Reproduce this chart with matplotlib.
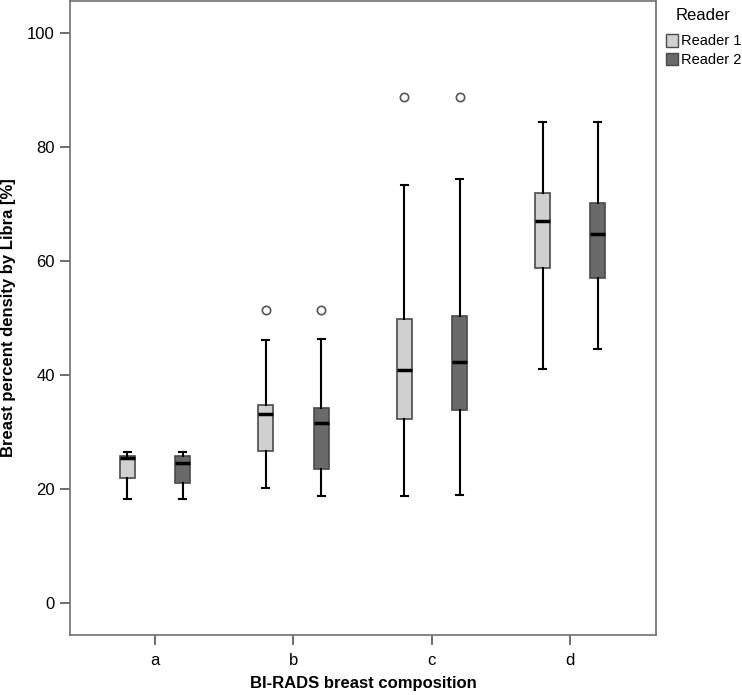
import matplotlib
matplotlib.use("Agg")
import matplotlib.pyplot as plt
from matplotlib.patches import Patch

plt.rcParams['font.family'] = ['Liberation Sans', 'DejaVu Sans']

categories = ['a', 'b', 'c', 'd']
readers = ['Reader 1', 'Reader 2']

# per reader: whisker low, q1, median, q3, whisker high, outliers
r1_whislo = [18.3, 20.2, 18.8, 41.1]
r1_q1 = [21.9, 26.7, 32.2, 58.8]
r1_med = [25.4, 33.1, 40.8, 67.0]
r1_q3 = [25.8, 34.8, 49.8, 72.0]
r1_whishi = [26.5, 46.2, 73.3, 84.4]
r1_fliers = [[], [51.4], [88.7], []]

r2_whislo = [18.3, 18.8, 19.0, 44.6]
r2_q1 = [21.0, 23.6, 33.8, 57.1]
r2_med = [24.6, 31.5, 42.3, 64.8]
r2_q3 = [25.8, 34.3, 50.3, 70.2]
r2_whishi = [26.5, 46.3, 74.3, 84.4]
r2_fliers = [[], [51.4], [88.7], []]

colors = ['#d0d0d0', '#6a6a6a']
edge = '#4a4a4a'

fig = plt.figure(figsize=(7.42, 6.95), dpi=100)
ax = fig.add_axes([70/742, 60/695, (656-70)/742, (634)/695])

series = [
    (r1_whislo, r1_q1, r1_med, r1_q3, r1_whishi, r1_fliers),
    (r2_whislo, r2_q1, r2_med, r2_q3, r2_whishi, r2_fliers),
]
offsets = [-0.2, 0.2]
for k, (wl, q1, md, q3, wh, fl) in enumerate(series):
    stats = []
    for i in range(len(categories)):
        stats.append(dict(whislo=wl[i], q1=q1[i], med=md[i], q3=q3[i],
                          whishi=wh[i], fliers=fl[i]))
    pos = [i + offsets[k] for i in range(len(categories))]
    ax.bxp(stats, positions=pos, widths=0.108, patch_artist=True,
           manage_ticks=False,
           boxprops=dict(facecolor=colors[k], edgecolor=edge, linewidth=1.2),
           medianprops=dict(color='black', linewidth=2.5),
           whiskerprops=dict(color='black', linewidth=1.5),
           capprops=dict(color='black', linewidth=1.5),
           capwidths=0.05,
           flierprops=dict(marker='o', markerfacecolor='white',
                           markeredgecolor='#555555', markersize=6,
                           markeredgewidth=1.2))

ax.set_xlim(-0.615, 3.62)
ax.set_ylim(-5.6, 105.6)
ax.set_xticks(range(len(categories)))
ax.set_xticklabels(categories)
ax.set_yticks([0, 20, 40, 60, 80, 100])
for s in ax.spines.values():
    s.set_color('#707070')
    s.set_linewidth(1.2)
ax.tick_params(axis='both', direction='out', length=7, width=1.2,
               color='#555555', labelsize=12, labelcolor='black', pad=4)
ax.tick_params(axis='x', pad=6)

ax.set_xlabel('BI-RADS breast composition', fontsize=12, fontweight='bold',
              labelpad=6)
ax.set_ylabel('Breast percent density by Libra [%]', fontsize=12,
              fontweight='bold', labelpad=8)

handles = [Patch(facecolor=colors[k], edgecolor=edge, label=readers[k])
           for k in range(2)]
leg = fig.legend(handles=handles, title='Reader', loc='upper left',
                 bbox_to_anchor=(666/742, 1 - 8/695), frameon=False,
                 fontsize=10.5, title_fontsize=12, handlelength=0.85,
                 handleheight=0.95, handletextpad=0.15, labelspacing=0.3,
                 borderpad=0.0, borderaxespad=0.0)
leg._legend_box.sep = 8

fig.savefig('out.png', dpi=100)
